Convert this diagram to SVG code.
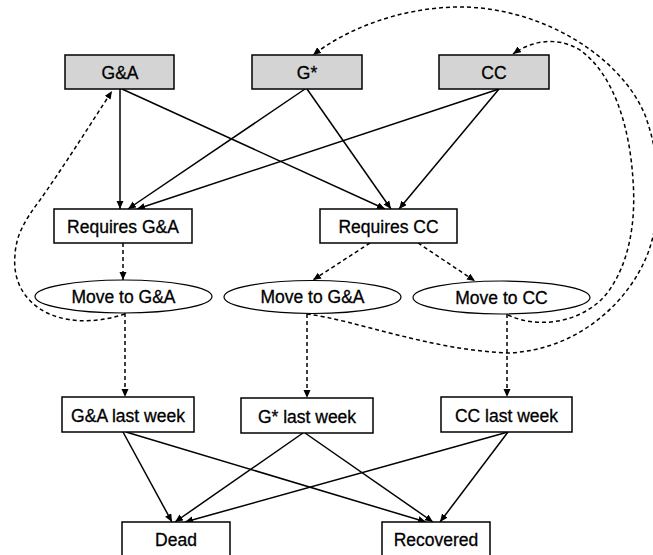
<svg xmlns="http://www.w3.org/2000/svg" width="653" height="555" viewBox="0 0 653 555">
<style>
.box{fill:#fff;stroke:#000;stroke-width:1.5}
.top{fill:#d4d4d4;stroke:#000;stroke-width:1.5}
.ell{fill:#fff;stroke:#000;stroke-width:1.2}
text{font-family:"Liberation Sans",Arial,sans-serif;font-size:17.5px;text-anchor:middle;fill:#000;stroke:#000;stroke-width:0.3}
.c line,.c path{fill:none;stroke:#000;stroke-width:1.5}
.c .d{stroke-dasharray:4,3}
</style>
<defs>
<marker id="a" markerUnits="userSpaceOnUse" markerWidth="9" markerHeight="8" refX="8" refY="3.5" orient="auto">
<path d="M0,0 L8,3.5 L0,7 z" fill="#000" stroke="none"/>
</marker>
</defs>
<rect width="653" height="555" fill="#fff"/>
<g class="c" id="connectors">
<line x1="120" y1="89" x2="120" y2="209" marker-end="url(#a)"/>
<line x1="122" y1="89" x2="385" y2="209" marker-end="url(#a)"/>
<line x1="305" y1="89" x2="128" y2="209" marker-end="url(#a)"/>
<line x1="307" y1="89" x2="391" y2="209" marker-end="url(#a)"/>
<line x1="499" y1="89" x2="137" y2="209" marker-end="url(#a)"/>
<line x1="499" y1="89" x2="399" y2="209" marker-end="url(#a)"/>
<line class="d" x1="123" y1="243" x2="123" y2="280" marker-end="url(#a)"/>
<line class="d" x1="370" y1="243" x2="313" y2="280" marker-end="url(#a)"/>
<line class="d" x1="418" y1="243" x2="475" y2="281" marker-end="url(#a)"/>
<line class="d" x1="125" y1="313" x2="125" y2="397" marker-end="url(#a)"/>
<line class="d" x1="307" y1="314" x2="307" y2="398" marker-end="url(#a)"/>
<line class="d" x1="507" y1="314" x2="507" y2="397" marker-end="url(#a)"/>
<line x1="123" y1="432" x2="172" y2="522" marker-end="url(#a)"/>
<line x1="126" y1="432" x2="426" y2="522" marker-end="url(#a)"/>
<line x1="303" y1="433" x2="175" y2="522" marker-end="url(#a)"/>
<line x1="305" y1="433" x2="433" y2="522" marker-end="url(#a)"/>
<line x1="508" y1="432" x2="185" y2="522" marker-end="url(#a)"/>
<line x1="508" y1="432" x2="440" y2="522" marker-end="url(#a)"/>
<path class="d" d="M125,314 C60,335 10,305 15,255 C16,235 25,220 40,200 C60,172 90,125 112,91" marker-end="url(#a)"/>
<path class="d" d="M307,314 C355,320 430,350 508,353 C580,350 630,300 648,253 C662,215 662,160 645,115 C620,55 540,7 460,7 C400,7 345,30 313,55" marker-end="url(#a)"/>
<path class="d" d="M508,315 C540,330 585,322 608,292 C630,262 636,220 633,180 C630,130 615,75 580,50 C555,35 530,42 513,54" marker-end="url(#a)"/>
</g>
<g id="n-ga"><rect class="top" x="65" y="55" width="109" height="34"/><text x="120" y="79">G&amp;A</text></g>
<g id="n-gstar"><rect class="top" x="252" y="55" width="110" height="34"/><text x="307" y="79">G*</text></g>
<g id="n-cc"><rect class="top" x="439" y="55" width="110" height="34"/><text x="494" y="79">CC</text></g>
<g id="n-reqga"><rect class="box" x="54" y="209" width="138" height="34"/><text x="123" y="233">Requires G&amp;A</text></g>
<g id="n-reqcc"><rect class="box" x="320" y="209" width="137" height="34"/><text x="388.5" y="233">Requires CC</text></g>
<g id="n-mv1"><ellipse class="ell" cx="123.5" cy="296.5" rx="88.5" ry="16.5"/><text x="123.5" y="302.5">Move to G&amp;A</text></g>
<g id="n-mv2"><ellipse class="ell" cx="312.5" cy="297" rx="88.5" ry="16.5"/><text x="312.5" y="303">Move to G&amp;A</text></g>
<g id="n-mv3"><ellipse class="ell" cx="501.5" cy="297.5" rx="88.5" ry="16.5"/><text x="501.5" y="303.5">Move to CC</text></g>
<g id="n-galw"><rect class="box" x="62" y="397" width="132" height="35"/><text x="128" y="422">G&amp;A last week</text></g>
<g id="n-gslw"><rect class="box" x="241" y="398" width="132" height="35"/><text x="307" y="423">G* last week</text></g>
<g id="n-cclw"><rect class="box" x="441" y="397" width="131" height="35"/><text x="506.5" y="422">CC last week</text></g>
<g id="n-dead"><rect class="box" x="122" y="522" width="108" height="40"/><text x="176" y="546">Dead</text></g>
<g id="n-rec"><rect class="box" x="382" y="522" width="108" height="40"/><text x="436" y="546">Recovered</text></g>
</svg>
